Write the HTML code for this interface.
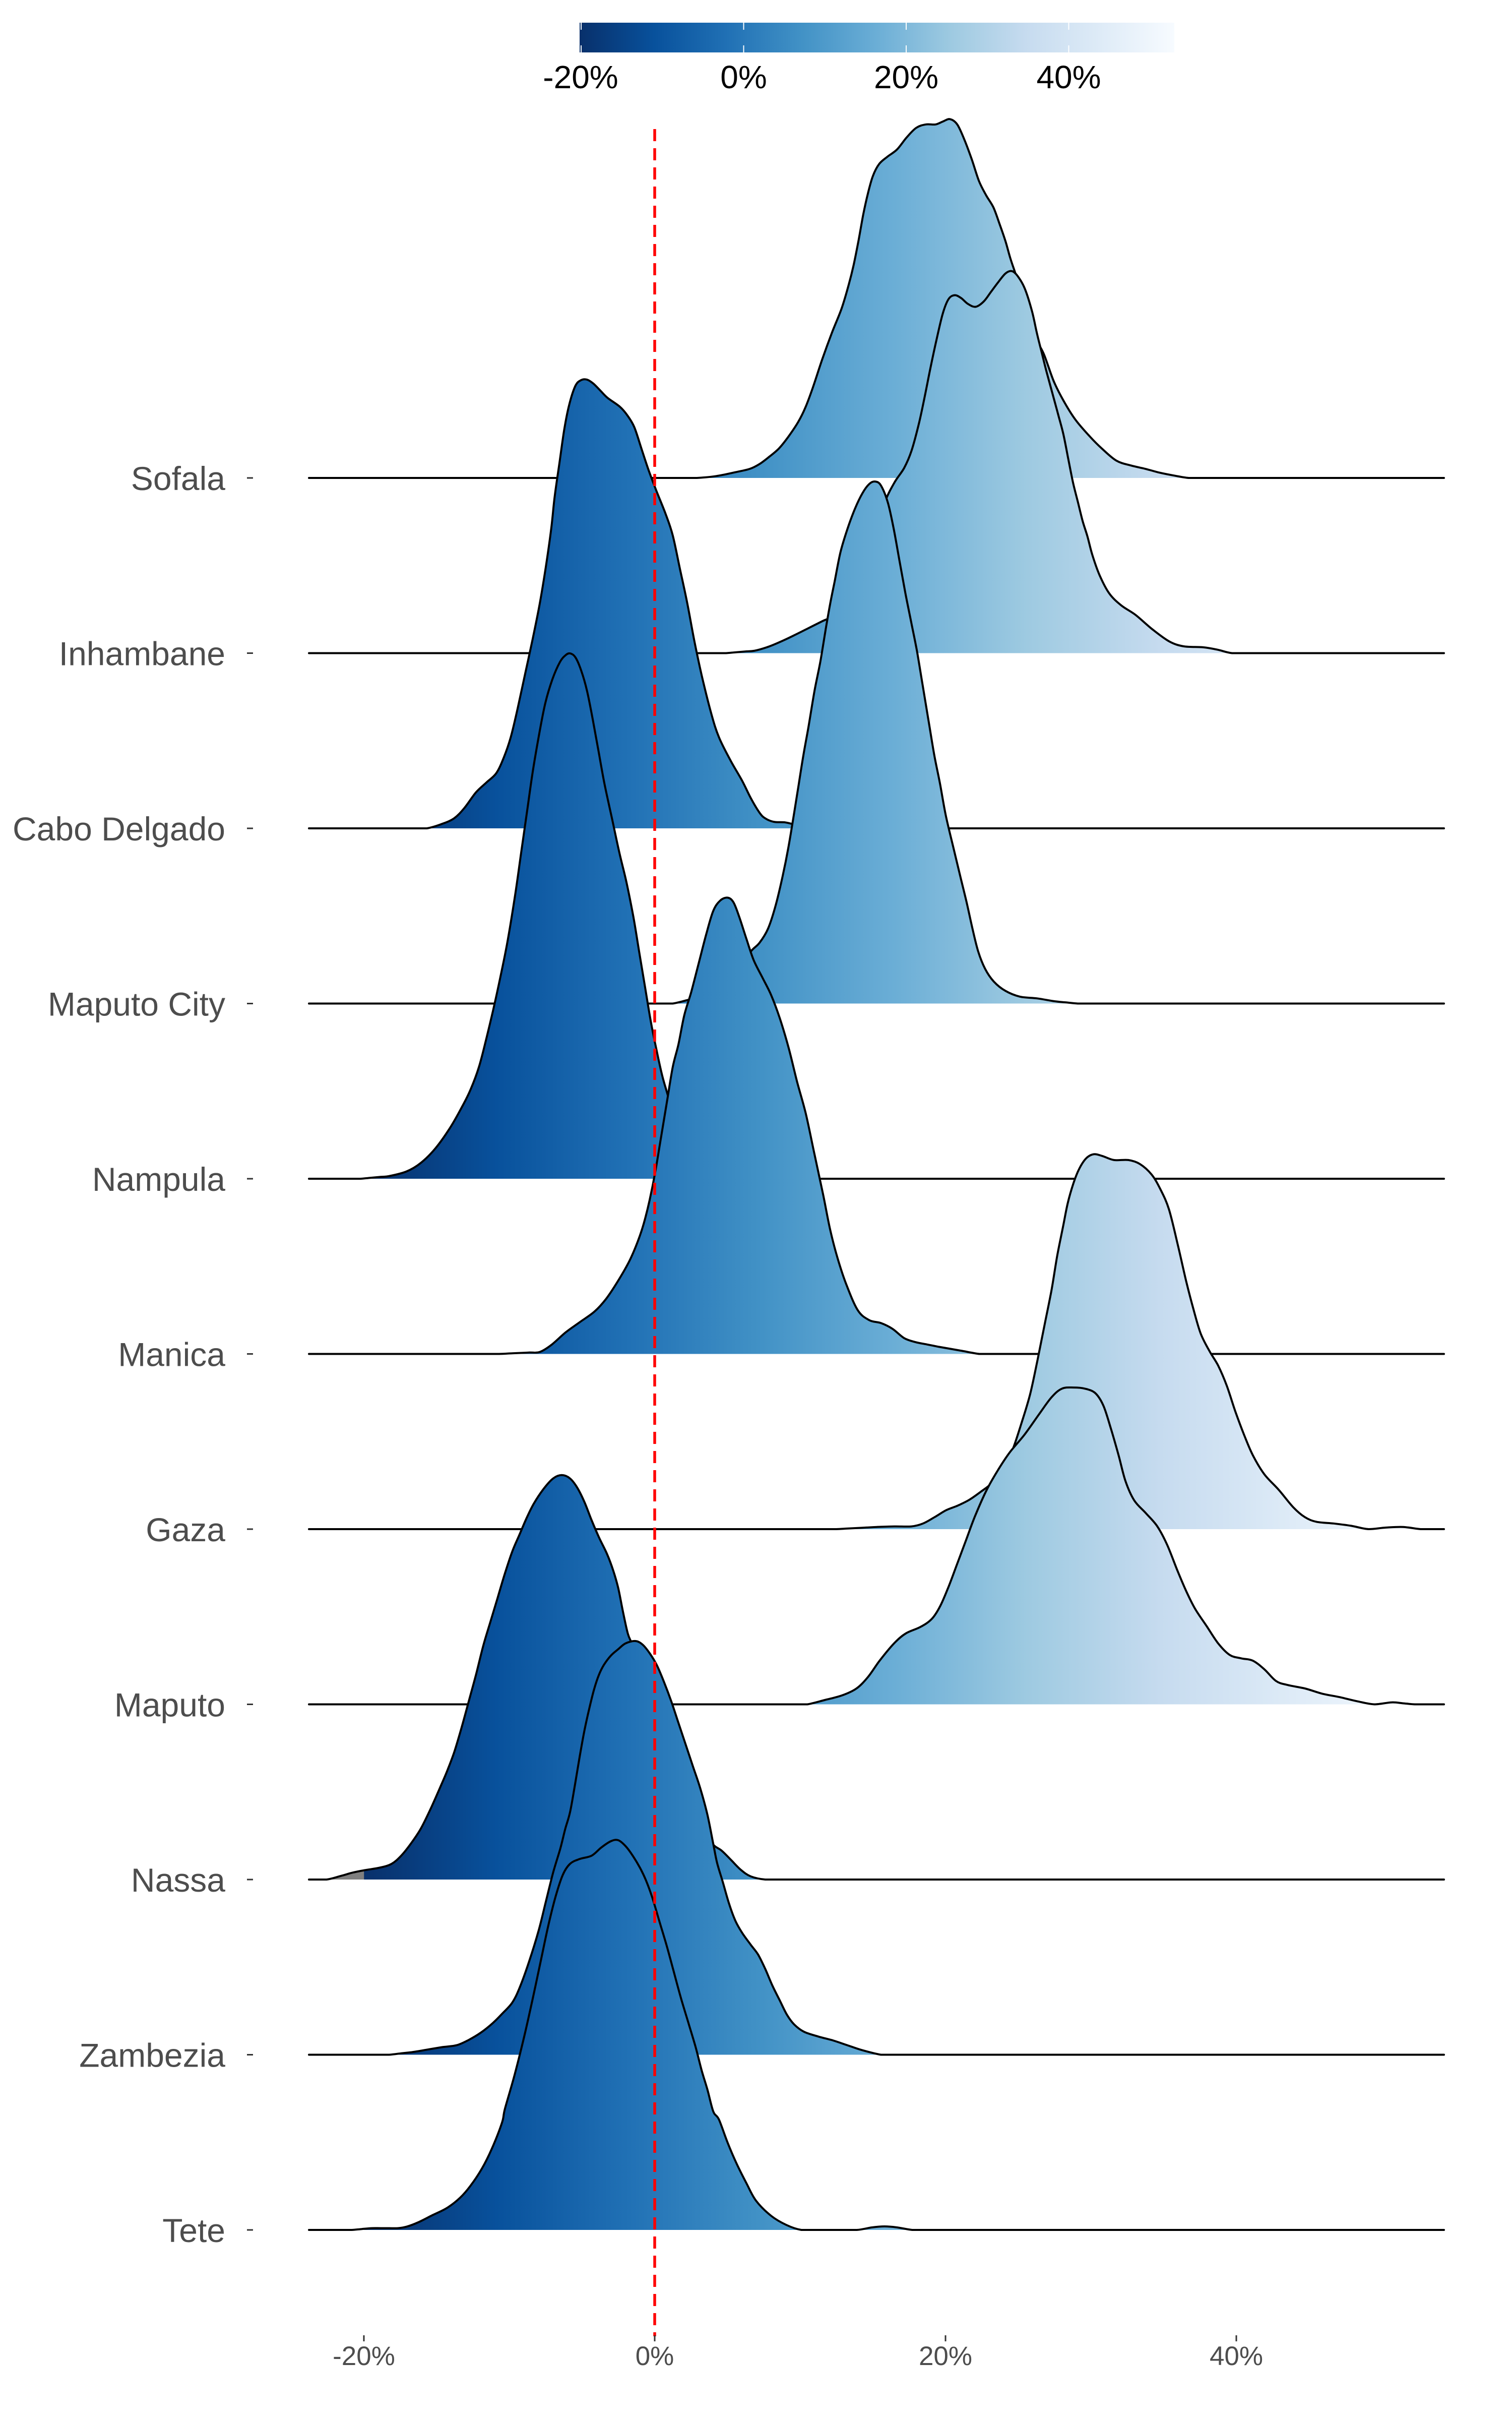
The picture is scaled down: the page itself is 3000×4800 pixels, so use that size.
<!DOCTYPE html>
<html><head><meta charset="utf-8">
<style>html,body{margin:0;padding:0;background:#fff;}svg{display:block}</style>
</head><body>
<svg id="s" width="3000" height="4800" viewBox="0 0 3000 4800" xmlns="http://www.w3.org/2000/svg" font-family="'Liberation Sans', Arial, sans-serif">
<defs>
<linearGradient id="rg" gradientUnits="userSpaceOnUse" x1="606.6" y1="0" x2="2828" y2="0">
<stop offset="0" stop-color="#7f7f7f"/>
<stop offset="0.0519" stop-color="#7f7f7f"/>
<stop offset="0.0522" stop-color="#08306b"/>
<stop offset="0.1705" stop-color="#08519c"/>
<stop offset="0.2890" stop-color="#2171b5"/>
<stop offset="0.4075" stop-color="#4292c6"/>
<stop offset="0.5260" stop-color="#6baed6"/>
<stop offset="0.6445" stop-color="#9ecae1"/>
<stop offset="0.7630" stop-color="#c6dbef"/>
<stop offset="0.8815" stop-color="#deebf7"/>
<stop offset="1" stop-color="#f7fbff"/>
</linearGradient>
<linearGradient id="cg" gradientUnits="userSpaceOnUse" x1="1150" y1="0" x2="2330" y2="0">
<stop offset="0" stop-color="#08306b"/>
<stop offset="0.125" stop-color="#08519c"/>
<stop offset="0.25" stop-color="#2171b5"/>
<stop offset="0.375" stop-color="#4292c6"/>
<stop offset="0.5" stop-color="#6baed6"/>
<stop offset="0.625" stop-color="#9ecae1"/>
<stop offset="0.75" stop-color="#c6dbef"/>
<stop offset="0.875" stop-color="#deebf7"/>
<stop offset="1" stop-color="#f7fbff"/>
</linearGradient>
</defs>
<rect width="3000" height="4800" fill="#fff"/>

<!-- colorbar -->
<rect x="1150" y="45" width="1180" height="59" fill="url(#cg)"/>
<g stroke="#fff" stroke-width="2">
<line x1="1153" y1="45" x2="1153" y2="59"/><line x1="1153" y1="90" x2="1153" y2="104"/>
<line x1="1475.5" y1="45" x2="1475.5" y2="59"/><line x1="1475.5" y1="90" x2="1475.5" y2="104"/>
<line x1="1798" y1="45" x2="1798" y2="59"/><line x1="1798" y1="90" x2="1798" y2="104"/>
<line x1="2120.5" y1="45" x2="2120.5" y2="59"/><line x1="2120.5" y1="90" x2="2120.5" y2="104"/>
</g>
<g font-size="64" fill="#000" text-anchor="middle">
<text x="1152" y="175">-20%</text>
<text x="1475.5" y="175">0%</text>
<text x="1798" y="175">20%</text>
<text x="2120.5" y="175">40%</text>
</g>

<!-- y labels -->
<g font-size="66" fill="#4d4d4d" text-anchor="end">
<text x="447" y="972">Sofala</text>
<text x="447" y="1319.5">Inhambane</text>
<text x="447" y="1667">Cabo Delgado</text>
<text x="447" y="2014.5">Maputo City</text>
<text x="447" y="2362">Nampula</text>
<text x="447" y="2709.5">Manica</text>
<text x="447" y="3057">Gaza</text>
<text x="447" y="3404.5">Maputo</text>
<text x="447" y="3752">Nassa</text>
<text x="447" y="4099.5">Zambezia</text>
<text x="447" y="4447">Tete</text>
</g>
<g stroke="#333" stroke-width="3">
<line x1="490" y1="948" x2="502" y2="948"/>
<line x1="490" y1="1295.5" x2="502" y2="1295.5"/>
<line x1="490" y1="1643" x2="502" y2="1643"/>
<line x1="490" y1="1990.5" x2="502" y2="1990.5"/>
<line x1="490" y1="2338" x2="502" y2="2338"/>
<line x1="490" y1="2685.5" x2="502" y2="2685.5"/>
<line x1="490" y1="3033" x2="502" y2="3033"/>
<line x1="490" y1="3380.5" x2="502" y2="3380.5"/>
<line x1="490" y1="3728" x2="502" y2="3728"/>
<line x1="490" y1="4075.5" x2="502" y2="4075.5"/>
<line x1="490" y1="4423" x2="502" y2="4423"/>
</g>

<g id="ridges"></g>

<line x1="1299" y1="256" x2="1299" y2="4634" stroke="#ff0000" stroke-width="5.5" stroke-dasharray="24 14"/>

<!-- x axis -->
<g stroke="#333" stroke-width="3">
<line x1="722" y1="4632" x2="722" y2="4644"/>
<line x1="1299" y1="4632" x2="1299" y2="4644"/>
<line x1="1876" y1="4632" x2="1876" y2="4644"/>
<line x1="2453" y1="4632" x2="2453" y2="4644"/>
</g>
<g font-size="53" fill="#4d4d4d" text-anchor="middle">
<text x="722" y="4691">-20%</text>
<text x="1299" y="4691">0%</text>
<text x="1876" y="4691">20%</text>
<text x="2453" y="4691">40%</text>
</g>
</svg>
<script>
(function(){
var K4=[1000,0,0.9567],K5=[600,3900,0.574],K6=[600,900,1.148],K7=[1200,2100,1.148],K8=[600,2700,0.9567],KF=[0,0,1];
function M(K,a){return a.map(function(p){return [K[0]+p[0]*K[2],K[1]+p[1]*K[2]];});}
function B(i){return 948+347.5*i;}
var R=[];
// Sofala
R.push([0,M(K4,[[330,991],[400,990],[440,987],[480,979],[510,972],[530,962],[550,947],[570,930],[590,905],[610,875],[625,845],[640,805],[660,745],[680,690],[700,640],[715,590],[725,550],[735,500],[745,445],[755,400],[765,365],[778,340],[795,325],[815,310],[835,285],[855,265],[875,258],[895,258],[910,252],[925,247],[940,258],[955,290],[970,330],[985,375],[1000,405],[1015,430],[1028,465],[1040,500],[1050,535],[1060,565],[1075,610],[1090,660],[1105,705],[1120,735],[1140,790],[1160,830],[1185,870],[1215,905],[1240,930],[1270,955],[1300,965],[1330,972],[1360,980],[1390,986],[1420,989],[1450,991]])]);
// Inhambane
R.push([1,M(K4,[[400,1352],[460,1351],[520,1349],[545,1342],[570,1332],[600,1318],[630,1303],[660,1288],[680,1278],[700,1255],[730,1200],[760,1120],[790,1040],[810,1000],[830,970],[845,935],[860,880],[872,825],[885,760],[898,700],[910,650],[922,620],[935,612],[948,618],[962,630],[978,636],[995,625],[1010,605],[1025,585],[1040,567],[1053,562],[1065,572],[1080,598],[1095,645],[1105,690],[1115,730],[1125,770],[1140,825],[1150,862],[1160,900],[1170,950],[1180,1000],[1190,1040],[1200,1080],[1210,1112],[1220,1150],[1235,1192],[1255,1230],[1280,1255],[1310,1275],[1345,1305],[1380,1330],[1410,1340],[1450,1342],[1480,1347],[1510,1352],[1550,1355]])]);
// Cabo Delgado
R.push([2,[].concat(
 M(K6,[[180,648],[215,646],[240,640],[262,630],[280,612],[300,585],[318,568],[335,552],[348,525],[360,490],[372,440],[385,380],[398,320],[410,260],[420,200],[430,130]]),
 M(K4,[[105,1030],[115,960],[125,890],[135,840],[148,800],[160,788],[172,787],[185,795],[200,810],[215,825],[240,843],[255,860],[270,885],[285,930],[300,975],[315,1015],[335,1065],[350,1110],[365,1180],[380,1250],[395,1330],[410,1400],[430,1480]]),
 M(K6,[[720,490],[740,530],[760,565],[775,595],[790,620],[800,630],[815,636],[835,637],[855,642],[875,648]])
)]);
// Maputo City
R.push([3,M(K6,[[598,950],[640,948],[665,944],[700,935],[730,915],[755,890],[775,860],[790,845],[805,820],[818,780],[830,730],[840,680],[850,620],[858,570],[866,520],[875,470],[885,410],[895,360],[905,300],[912,260],[920,220],[930,170],[942,130],[955,95],[968,68],[980,52],[990,48],[1000,55],[1012,85],[1022,130],[1032,185],[1042,240],[1052,290],[1062,340],[1072,400],[1082,460],[1092,520],[1102,570],[1112,625],[1125,680],[1137,730],[1148,775],[1158,820],[1168,860],[1180,890],[1195,912],[1215,928],[1240,938],[1270,941],[1300,946],[1340,950]])]);
// Nampula
R.push([4,M(K6,[[10,1252],[100,1251],[150,1248],[180,1240],[205,1225],[230,1200],[255,1165],[275,1130],[290,1100],[305,1060],[318,1010],[330,960],[342,905],[355,840],[368,760],[378,690],[388,620],[398,550],[410,480],[420,430],[432,390],[445,360],[455,348],[463,345],[472,352],[482,375],[492,410],[502,460],[512,515],[522,570],[535,630],[548,690],[560,740],[572,800],[582,860],[592,920],[602,980],[612,1030],[622,1075],[632,1110],[645,1160],[660,1200],[680,1235],[710,1250],[740,1252]])]);
// Manica
R.push([5,M(K6,[[10,1555],[300,1555],[340,1553],[410,1552],[430,1540],[455,1518],[480,1500],[505,1482],[525,1460],[545,1430],[565,1395],[580,1360],[590,1330],[600,1290],[610,1240],[620,1180],[630,1120],[640,1060],[650,1020],[660,970],[672,930],[685,880],[698,830],[710,790],[722,772],[735,767],[745,775],[755,800],[768,840],[780,875],[795,905],[810,935],[825,975],[840,1025],[855,1085],[870,1140],[885,1210],[900,1280],[912,1340],[925,1390],[940,1435],[960,1480],[980,1497],[1000,1502],[1020,1512],[1040,1528],[1060,1535],[1100,1543],[1140,1550],[1170,1555]])]);
// Gaza
R.push([6,M(K7,[[0,812],[400,812],[470,809],[500,808],[530,808],[550,803],[570,792],[590,780],[610,772],[630,762],[650,748],[670,732],[690,705],[705,675],[720,630],[735,580],[748,520],[760,460],[772,400],[782,340],[792,290],[800,250],[810,215],[820,190],[832,172],[845,165],[860,168],[880,175],[905,175],[925,182],[945,200],[960,225],[975,260],[990,320],[1005,385],[1018,435],[1030,475],[1045,505],[1060,530],[1075,565],[1090,610],[1105,650],[1120,685],[1140,718],[1165,745],[1190,775],[1210,792],[1230,800],[1260,803],[1290,807],[1320,811],[1350,810],[1380,809],[1410,811],[1450,812]])]);
// Maputo
R.push([7,M(K7,[[0,1115],[300,1115],[350,1113],[380,1108],[410,1100],[435,1088],[455,1068],[475,1040],[500,1010],[520,993],[545,982],[565,968],[580,945],[595,910],[610,870],[625,830],[640,790],[660,745],[680,710],[700,680],[725,650],[750,615],[772,585],[790,570],[810,568],[830,570],[848,578],[862,600],[875,640],[888,685],[900,730],[915,763],[935,785],[955,808],[972,840],[990,885],[1005,920],[1020,950],[1040,980],[1060,1010],[1080,1030],[1100,1036],[1120,1040],[1140,1055],[1160,1075],[1180,1082],[1210,1088],[1240,1097],[1270,1103],[1300,1110],[1330,1113],[1360,1112],[1400,1113],[1450,1115]])]);
// Nassa
R.push([8,M(K8,[[15,1075],[50,1072],[80,1067],[105,1060],[130,1055],[160,1050],[185,1042],[205,1025],[225,1000],[245,970],[265,930],[285,885],[300,850],[315,810],[330,760],[345,705],[360,650],[375,590],[390,540],[405,490],[420,440],[435,395],[450,360],[465,325],[480,295],[500,265],[520,243],[538,236],[555,243],[570,262],[585,292],[600,330],[615,365],[632,400],[645,435],[655,470],[665,520],[675,565],[685,590],[700,640],[720,700],[745,770],[770,840],[800,910],[825,960],[850,1000],[870,1015],[890,1035],[910,1055],[930,1068],[960,1073],[1000,1075]])]);
// Zambezia
R.push([9,M(K8,[[180,1437],[230,1432],[260,1427],[290,1422],[320,1418],[345,1407],[370,1392],[395,1372],[415,1352],[435,1330],[450,1300],[470,1245],[490,1180],[505,1120],[520,1060],[535,1010],[545,970],[555,935],[565,880],[575,820],[585,765],[595,720],[605,680],[615,650],[625,630],[640,610],[655,597],[670,585],[690,580],[705,587],[720,605],[735,630],[750,665],[765,705],[780,750],[795,795],[810,840],[825,885],[840,940],[852,1000],[860,1040],[872,1080],[885,1125],[898,1160],[912,1185],[930,1210],[945,1230],[960,1260],[975,1295],[990,1325],[1005,1355],[1020,1375],[1040,1390],[1070,1400],[1100,1408],[1130,1418],[1160,1428],[1200,1435],[1250,1437]])]);
// Tete
R.push([10,[].concat(
 M(K5,[[22,911],[100,911],[170,909],[240,905],[330,905],[360,900],[400,885],[450,860],[500,835],[545,800],[580,760],[620,700],[655,630],[690,540]]),
 M(K8,[[420,1550],[440,1480],[460,1400],[478,1320],[495,1240],[510,1170],[525,1110],[540,1065],[555,1042],[575,1032],[600,1025],[620,1008],[640,995],[655,993],[670,1005],[685,1025],[700,1050],[712,1075],[725,1110],[740,1160],[755,1210],[770,1265],[785,1320],[800,1370],[815,1420],[828,1470],[840,1510],[852,1555]]),
 M(K5,[[1440,530],[1470,610],[1500,680],[1535,750],[1568,810]]),
 M(KF,[[1530,4395],[1560,4413],[1590,4421],[1625,4423],[1660,4423],[1700,4421],[1730,4418],[1755,4416],[1780,4418],[1810,4423]])
)]);

var NS='http://www.w3.org/2000/svg';
var g=document.getElementById('ridges');
function f(p){return p[0].toFixed(1)+','+p[1].toFixed(1);}
R.forEach(function(r){
 var b=B(r[0]);
 var pts=r[1].map(function(p){return [p[0],(b-p[1]<3)?b:p[1]];}).filter(function(p){return p[0]>614&&p[0]<2864;});
 pts=[[613,b]].concat(pts,[[2865,b]]);
 // densify long segments
 var q=[];
 for(var j=0;j<pts.length;j++){
  q.push(pts[j]);
  if(j<pts.length-1){
   var a=pts[j],c=pts[j+1],dx=c[0]-a[0];
   if(dx>40){
    var n=Math.ceil(dx/25);
    for(var k=1;k<n;k++){var t=k/n;q.push([a[0]+dx*t,a[1]+(c[1]-a[1])*t]);}
   }
  }
 }
 pts=q;
 var d='M'+f(pts[0]);
 for(var j=0;j<pts.length-1;j++){
  var p0=pts[Math.max(j-1,0)],p1=pts[j],p2=pts[j+1],p3=pts[Math.min(j+2,pts.length-1)];
  var c1=[p1[0]+(p2[0]-p0[0])/6,Math.min(b,p1[1]+(p2[1]-p0[1])/6)];
  var c2=[p2[0]-(p3[0]-p1[0])/6,Math.min(b,p2[1]-(p3[1]-p1[1])/6)];
  // keep control points within x-range to avoid loops
  var lo=Math.min(p1[0],p2[0]),hi=Math.max(p1[0],p2[0]);
  c1[0]=Math.max(lo,Math.min(hi,c1[0]));c2[0]=Math.max(lo,Math.min(hi,c2[0]));
  d+='C'+f(c1)+' '+f(c2)+' '+f(p2);
 }
 var fe=document.createElementNS(NS,'path');
 fe.setAttribute('d',d+'L2865,'+b+'L613,'+b+'Z');
 fe.setAttribute('fill','url(#rg)');
 var le=document.createElementNS(NS,'path');
 le.setAttribute('d',d);
 le.setAttribute('fill','none');
 le.setAttribute('stroke','#000');
 le.setAttribute('stroke-width','4');
 le.setAttribute('stroke-linejoin','round');
 le.setAttribute('stroke-linecap','round');
 g.appendChild(fe);g.appendChild(le);
});
})();
</script>
</body></html>
